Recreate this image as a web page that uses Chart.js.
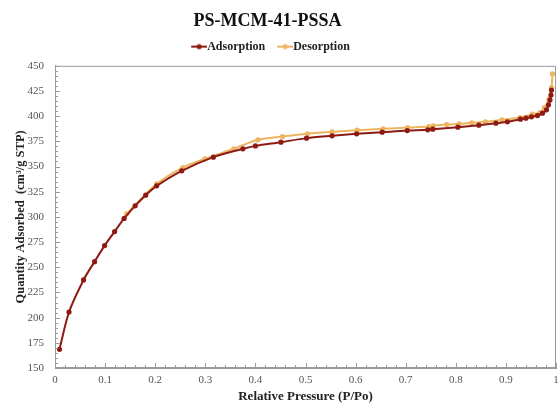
<!DOCTYPE html>
<html>
<head>
<meta charset="utf-8">
<script src="https://cdn.jsdelivr.net/npm/chart.js@4.4.1/dist/chart.umd.min.js"></script>
<style>
html,body{margin:0;padding:0;background:#fff;}
#wrap{width:558px;height:404px;position:relative;}
</style>
</head>
<body>
<div id="wrap"><canvas id="c" width="558" height="404"></canvas></div>
<script>
// Adsorption branch (relative pressure, quantity adsorbed)
const adsP = [0.009,0.028,0.057,0.079,0.099,0.119,0.138,0.160,0.181,0.203,0.253,0.316,0.375,0.400,0.451,0.502,0.553,0.602,0.653,0.703,0.744,0.754,0.804,0.846,0.880,0.903,0.929,0.940,0.951,0.963,0.973,0.981,0.985,0.988,0.990,0.991];
const adsQ = [168.5,205.6,237.4,255.6,271.5,285.4,298.5,311.0,321.6,330.8,345.7,359.3,367.6,370.5,374.2,378.2,380.5,382.5,384.1,385.7,386.4,387.1,389.1,391.1,393.0,394.4,397.0,398.0,399.3,400.6,403.0,406.3,411.3,416.0,421.0,426.0];
// Desorption branch
const desP = [0.143,0.203,0.255,0.299,0.357,0.405,0.454,0.504,0.553,0.603,0.655,0.704,0.746,0.755,0.782,0.807,0.832,0.859,0.892,0.928,0.953,0.968,0.977,0.986,0.991,0.993];
const desQ = [303.0,332.8,349.0,357.6,367.6,376.5,379.8,382.5,384.4,386.1,387.4,388.7,389.7,390.4,391.7,392.4,393.4,394.4,396.4,398.6,402.0,403.6,408.6,416.9,428.4,442.1];
// Axis ticks
const xTicks = [0,0.1,0.2,0.3,0.4,0.5,0.6,0.7,0.8,0.9,1];
const yTicks = [150,175,200,225,250,275,300,325,350,375,400,425,450];

const seriesNames = ['Adsorption','Desorption'];
const adsColor = '#8E1A14';
const desColor = '#EDB560';
const serif = '"Liberation Serif", "Times New Roman", serif';

// legend marker: line with a dot, placed right against the label text
function legendIcon(color){
  const cv = document.createElement('canvas');
  cv.width = 28; cv.height = 8;
  const g = cv.getContext('2d');
  g.strokeStyle = color; g.lineWidth = 2;
  g.beginPath(); g.moveTo(12,4); g.lineTo(28,4); g.stroke();
  g.fillStyle = color;
  g.beginPath(); g.arc(20,4,2.6,0,Math.PI*2); g.fill();
  return cv;
}

const framePlugin = {
  id:'frame',
  afterLayout(chart){
    const shift = -18;
    [chart.titleBlock, chart.legend].forEach(b=>{ if(b){ b.left += shift; b.right += shift; } });
  },
  afterDatasetsDraw(chart){
    const {ctx, chartArea:a, scales} = chart;
    ctx.save();
    ctx.strokeStyle = '#9a9a9a';
    ctx.lineWidth = 1;
    ctx.strokeRect(a.left+0.5, a.top+0.5, a.right-a.left-1, a.bottom-a.top-1);
    ctx.beginPath();
    const xs = scales.x, ys = scales.y;
    for (let i=0;i<=50;i++){
      const v = i*0.02;
      const px = Math.round(xs.getPixelForValue(v))+0.5;
      const len = (i%5===0)?5:3;
      ctx.moveTo(px, a.bottom); ctx.lineTo(px, a.bottom-len);
    }
    for (let v=150; v<=450; v+=5){
      const py = Math.round(ys.getPixelForValue(v))+0.5;
      const len = (v%25===0)?5:3;
      ctx.moveTo(a.left, py); ctx.lineTo(a.left+len, py);
    }
    ctx.stroke();
    ctx.restore();
  }
};

new Chart(document.getElementById('c'), {
  type:'scatter',
  data:{
    datasets:[
      {label:seriesNames[0], data:adsP.map((p,i)=>({x:p,y:adsQ[i]})), showLine:true,
       borderColor:adsColor, backgroundColor:adsColor, borderWidth:2, pointRadius:2.6,
       pointBorderWidth:0, tension:0.3, pointStyle:'circle', clip:false},
      {label:seriesNames[1], data:desP.map((p,i)=>({x:p,y:desQ[i]})), showLine:true,
       borderColor:desColor, backgroundColor:desColor, borderWidth:2, pointRadius:2.6,
       pointBorderWidth:0, tension:0.3, pointStyle:'circle', clip:false}
    ]
  },
  options:{
    responsive:false, animation:false,
    layout:{autoPadding:false, padding:{left:13,right:0,top:11,bottom:0}},
    plugins:{
      title:{display:true, text:'PS-MCM-41-PSSA', color:'#111',
        font:{family:serif, size:18, weight:'bold'}, padding:{top:0,bottom:2}},
      subtitle:{display:true, text:' ', weight:500, font:{size:1}, padding:{top:0,bottom:2}},
      legend:{position:'top', labels:{usePointStyle:true, pointStyleWidth:16,
        color:'#222', font:{family:serif, size:12, weight:'bold'}, padding:6,
        generateLabels(chart){
          return chart.data.datasets.map((d,i)=>({text:d.label, pointStyle:legendIcon(d.borderColor),
            fillStyle:d.borderColor, strokeStyle:d.borderColor, lineWidth:0, hidden:false, datasetIndex:i, fontColor:'#222'}));
        }}},
      tooltip:{enabled:false}
    },
    scales:{
      x:{type:'linear', min:0, max:1,
        afterBuildTicks(s){ s.ticks = xTicks.map(v=>({value:v})); },
        afterFit(s){ s.height = 36; s.paddingRight = 2; s.paddingLeft = 0; },
        grid:{display:false, drawTicks:false},
        border:{display:true, color:'#9a9a9a'},
        ticks:{color:'#555', font:{family:serif, size:11}, padding:6,
          callback:(v)=>String(v)},
        title:{display:true, text:'Relative Pressure (P/Po)', color:'#222',
          font:{family:serif, size:13, weight:'bold'}, padding:{top:0,bottom:0}}},
      y:{type:'linear', min:150, max:450,
        afterBuildTicks(s){ s.ticks = yTicks.map(v=>({value:v})); },
        afterFit(s){ s.width = 42; },
        grid:{display:false, drawTicks:false},
        border:{display:true, color:'#9a9a9a'},
        ticks:{color:'#555', font:{family:serif, size:11}, padding:11},
        title:{display:true, text:'Quantity Adsorbed  (cm³/g STP)', color:'#222',
          font:{family:serif, size:12.5, weight:'bold'}, padding:{top:0,bottom:0}}}
    }
  },
  plugins:[framePlugin]
});
</script>
</body>
</html>
